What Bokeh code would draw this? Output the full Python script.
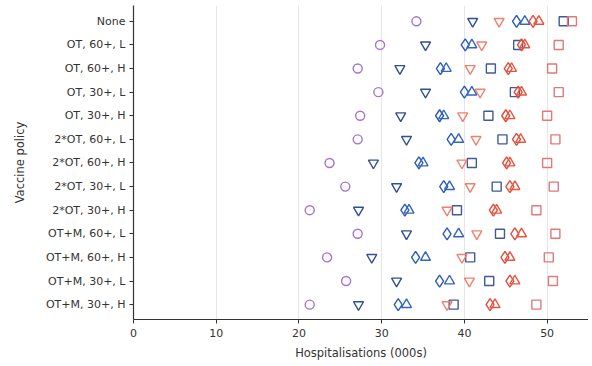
from bokeh.plotting import figure
from bokeh.models import Range1d, FixedTicker
from bokeh.embed import file_html
from bokeh.resources import INLINE

policies = ["None", "OT, 60+, L", "OT, 60+, H", "OT, 30+, L", "OT, 30+, H",
            "2*OT, 60+, L", "2*OT, 60+, H", "2*OT, 30+, L", "2*OT, 30+, H",
            "OT+M, 60+, L", "OT+M, 60+, H", "OT+M, 30+, L", "OT+M, 30+, H"]

purple_circle = [34.2, 29.8, 27.1, 29.6, 27.4, 27.1, 23.7, 25.6, 21.3, 27.1, 23.4, 25.7, 21.3]
blue_invtri   = [41.0, 35.3, 32.2, 35.3, 32.3, 33.0, 29.0, 31.8, 27.2, 33.0, 28.8, 31.8, 27.2]
blue_diamond  = [46.3, 40.1, 37.1, 40.0, 37.0, 38.4, 34.5, 37.5, 32.8, 37.9, 34.1, 37.0, 32.0]
blue_tri      = [47.3, 40.9, 37.8, 40.9, 37.5, 39.3, 35.0, 38.2, 33.3, 39.3, 35.3, 38.2, 33.0]
blue_square   = [52.0, 46.5, 43.2, 46.1, 42.9, 44.6, 40.9, 43.9, 39.1, 44.3, 40.7, 43.0, 38.7]
red_invtri    = [44.2, 42.1, 40.7, 41.9, 39.8, 41.4, 39.7, 40.7, 37.9, 41.5, 39.7, 40.6, 37.9]
red_diamond   = [48.3, 46.9, 45.3, 46.5, 45.0, 46.3, 45.1, 45.5, 43.5, 46.1, 44.9, 45.5, 43.1]
red_tri       = [49.0, 47.3, 45.7, 46.9, 45.5, 46.8, 45.5, 46.1, 43.9, 46.9, 45.5, 46.1, 43.7]
red_square    = [53.0, 51.4, 50.6, 51.4, 50.0, 51.0, 50.0, 50.8, 48.7, 51.0, 50.2, 50.7, 48.7]

x_ticks = [0, 10, 20, 30, 40, 50]

ys = list(range(len(policies)))

p = figure(width=588, height=362, output_backend="svg", toolbar_location=None,
           x_range=Range1d(0, 55), y_range=Range1d(12.63, -0.67),
           min_border_left=133, min_border_right=0, min_border_top=5, min_border_bottom=41)
p.outline_line_color = None
p.background_fill_color = "white"

series = [
    (purple_circle, "circle", "#a872d4", 9),
    (blue_invtri, "inverted_triangle", "#2f4f96", 10),
    (blue_diamond, "diamond", "#2a5bb8", 12),
    (blue_tri, "triangle", "#3465c4", 10),
    (blue_square, "square", "#3f5b98", 9),
    (red_invtri, "inverted_triangle", "#f0806a", 10),
    (red_diamond, "diamond", "#e04c3c", 12),
    (red_tri, "triangle", "#e8553e", 10),
    (red_square, "square", "#e27878", 9),
]
for vals, marker, color, size in series:
    p.scatter(vals, ys, marker=marker, size=size, fill_color=None,
              line_color=color, line_width=1.4)

p.xaxis.ticker = FixedTicker(ticks=x_ticks)
p.yaxis.ticker = FixedTicker(ticks=ys)
p.yaxis.major_label_overrides = {i: s for i, s in enumerate(policies)}

p.xgrid.ticker = FixedTicker(ticks=[10, 20, 30, 40, 50])
p.xgrid.grid_line_color = "#e6e6e6"
p.xgrid.grid_line_width = 1
p.ygrid.grid_line_color = None

for ax in (p.xaxis, p.yaxis):
    ax.minor_tick_line_color = None
    ax.major_tick_out = 4
    ax.major_tick_in = 0
    ax.axis_line_color = "#333333"
    ax.major_tick_line_color = "#333333"
    ax.axis_line_width = 1.2
    ax.major_label_text_font = "DejaVu Sans"
    ax.major_label_text_font_size = "11px"
    ax.major_label_text_color = "#333333"
    ax.axis_label_text_font = "DejaVu Sans"
    ax.axis_label_text_font_size = "11.5px"
    ax.axis_label_text_font_style = "normal"
    ax.axis_label_text_color = "#333333"

p.xaxis.axis_label = "Hospitalisations (000s)"
p.yaxis.axis_label = "Vaccine policy"
p.xaxis.major_label_standoff = 5
p.yaxis.major_label_standoff = 4
p.xaxis.axis_label_standoff = 6
p.yaxis.axis_label_standoff = 16

open("out.html", "w").write(file_html(p, INLINE))
